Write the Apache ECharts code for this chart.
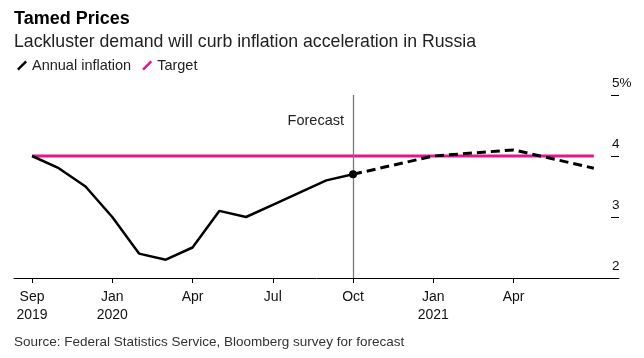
<!DOCTYPE html>
<html>
<head>
<meta charset="utf-8">
<script src="https://cdn.jsdelivr.net/npm/echarts@6/dist/echarts.min.js"></script>
<style>
html,body{margin:0;padding:0;background:#fff;}
#c{width:644px;height:358px;}
</style>
</head>
<body>
<div id="c"></div>
<script>
// Monthly points (month-end readings), Sep 2019 .. Jun 2021
var months = ['2019-09','2019-10','2019-11','2019-12','2020-01','2020-02','2020-03','2020-04','2020-05','2020-06','2020-07','2020-08','2020-09',
              '2020-10','2020-11','2020-12','2021-01','2021-02','2021-03','2021-04','2021-05','2021-06'];
// Annual inflation, actual (Sep 2019 .. Sep 2020)
var actual = [4.0, 3.8, 3.5, 3.0, 2.4, 2.3, 2.5, 3.1, 3.0, 3.2, 3.4, 3.6, 3.7];
// Forecast (quarter ends), keyed by month
var forecastMonths = ['2020-09','2020-12','2021-03','2021-06'];
var forecastValues = [3.7, 4.0, 4.1, 3.8];
// Target
var target = 4.0;
// X tick labels and the month they sit on
var tickMonths = ['2019-09','2019-12','2020-03','2020-06','2020-09','2020-12','2021-03'];
var tickLabels = ['Sep\n2019','Jan\n2020','Apr','Jul','Oct','Jan\n2021','Apr'];
var forecastStart = '2020-09';

var FONT = 'Liberation Sans, Arial, sans-serif';
var MAGENTA = '#e5158c';

var actualData = actual.map(function(v, i){ return [i, v]; });
var forecastData = forecastMonths.map(function(m, i){ return [months.indexOf(m), forecastValues[i]]; });
var targetData = months.map(function(m, i){ return [i, target]; });
var tickIdx = tickMonths.map(function(m){ return months.indexOf(m); });
var fIdx = months.indexOf(forecastStart);

var chart = echarts.init(document.getElementById('c'), null, {renderer:'canvas'});
chart.setOption({
  animation: false,
  textStyle: {fontFamily: FONT},
  title: [
    {text: 'Tamed Prices', left: 9, top: 5, textStyle: {fontSize: 18, fontWeight: 'bold', color: '#000', fontFamily: FONT}},
    {text: 'Lackluster demand will curb inflation acceleration in Russia', left: 9, top: 28, textStyle: {fontSize: 17.7, fontWeight: 'normal', color: '#222', fontFamily: FONT}},
    {text: 'Source: Federal Statistics Service, Bloomberg survey for forecast', left: 9, top: 330, textStyle: {fontSize: 13.5, fontWeight: 'normal', color: '#333', fontFamily: FONT}}
  ],
  legend: {
    left: 12, top: 53,
    itemWidth: 10, itemHeight: 10, itemGap: 11,
    textStyle: {fontSize: 14.5, color: '#222', fontFamily: FONT},
    data: [
      {name: 'Annual inflation', icon: 'path://M0,8.3 L8.3,0 L10,1.7 L1.7,10 Z', itemStyle: {color: '#000'}},
      {name: 'Target', icon: 'path://M0,8.3 L8.3,0 L10,1.7 L1.7,10 Z', itemStyle: {color: MAGENTA}}
    ]
  },
  grid: {left: 14, right: 25, top: 95, bottom: 80, containLabel: false},
  xAxis: {
    type: 'value',
    min: -0.673, max: 21.94,
    splitLine: {show: false},
    axisLine: {show: true, onZero: false, lineStyle: {color: '#000', width: 1}},
    axisTick: {show: true, length: 5, customValues: tickIdx, lineStyle: {color: '#000'}},
    axisLabel: {
      customValues: tickIdx,
      color: '#111', fontSize: 14, lineHeight: 18, margin: 10, fontFamily: FONT,
      formatter: function(v){ var k = tickIdx.indexOf(Math.round(v)); return k >= 0 ? tickLabels[k] : ''; }
    }
  },
  yAxis: {
    type: 'value', position: 'right',
    min: 2, max: 5, interval: 1,
    splitLine: {show: false},
    axisLine: {show: false, onZero: false},
    axisTick: {show: true, inside: true, length: 8, lineStyle: {color: '#000', width: 1}},
    axisLabel: {
      color: '#111', fontSize: 13.5, margin: -7, align: 'left', verticalAlign: 'bottom',
      padding: [0, 0, 5, 0], fontFamily: FONT,
      formatter: function(v){ return v === 5 ? '5%' : String(v); }
    }
  },
  series: [
    {
      name: 'Target', type: 'line', data: targetData, symbol: 'none',
      lineStyle: {color: MAGENTA, width: 3}, itemStyle: {color: MAGENTA}, z: 2,
      markLine: {
        silent: true, symbol: 'none',
        lineStyle: {color: '#7a7a7a', width: 1.3, type: 'solid'},
        label: {show: false},
        data: [{xAxis: fIdx}]
      }
    },
    {
      name: 'Annual inflation', type: 'line', data: actualData, symbol: 'none',
      lineStyle: {color: '#000', width: 2.5}, itemStyle: {color: '#000'}, z: 3
    },
    {
      name: 'Forecast', type: 'line', data: forecastData, symbol: 'none',
      lineStyle: {color: '#000', width: 3, type: [9, 5]}, itemStyle: {color: '#000'}, z: 3
    },
    {
      name: 'Last actual', type: 'scatter', data: [actualData[actualData.length - 1]],
      symbol: 'circle', symbolSize: 8, itemStyle: {color: '#000', opacity: 1}, z: 5
    }
  ],
  graphic: [
    {type: 'text', right: 644 - 344, top: 113, style: {text: 'Forecast', fontSize: 14.5, fill: '#222', fontFamily: FONT}}
  ]
});
</script>
</body>
</html>
